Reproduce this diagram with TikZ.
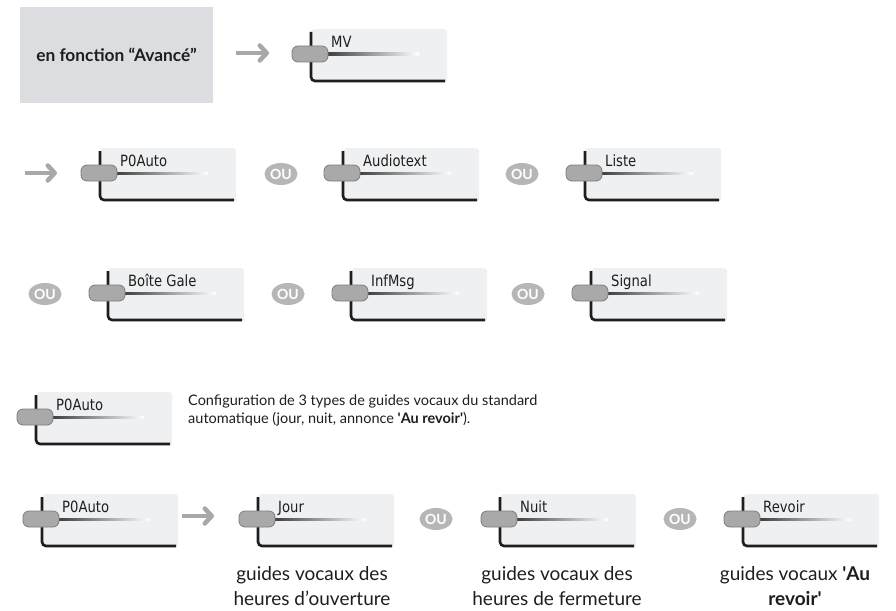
\documentclass[tikz,border=0pt]{standalone}
\usepackage{fontspec}
\setmainfont{Lato}
\newfontfamily\lcdfont[FakeStretch=0.85]{DejaVu Sans}
\usetikzlibrary{shapes.geometric,arrows.meta}
\definecolor{panelgrey}{HTML}{DCDDE0}
\definecolor{keyfill}{HTML}{EFF0F2}
\definecolor{pillfill}{HTML}{A9A9A9}
\definecolor{pilledge}{HTML}{7C7C7C}
\definecolor{ougrey}{HTML}{B6B6B6}
\definecolor{arrowgrey}{HTML}{A8A8A8}
\definecolor{inkblack}{HTML}{1E1E1E}
\tikzset{
  panel/.style={fill=panelgrey, minimum width=193pt, minimum height=96pt, inner sep=0pt,
    font=\bfseries\fontsize{17.3}{19}\selectfont, text=inkblack},
  keybg/.style={fill=keyfill, minimum width=136pt, minimum height=53pt, inner sep=0pt, rounded corners=3pt},
  keyedge/.style={draw=inkblack, line width=2.6pt, rounded corners=4pt},
  pill/.style={fill=pillfill, draw=pilledge, line width=0.8pt, rounded corners=6pt},
  keylabel/.style={anchor=base west, inner sep=0pt, text=inkblack, font=\lcdfont\fontsize{15.5}{16}\selectfont},
  ou/.style={ellipse, fill=ougrey, minimum width=33pt, minimum height=22pt, inner sep=0pt,
    text=white, font=\bfseries\fontsize{14}{14}\selectfont},
  arr/.style={draw=arrowgrey, line width=4.5pt, -{Straight Barb[length=7pt, width=15pt, round]}},
  bodytext/.style={inner sep=0pt, text=inkblack, font=\fontsize{14.5}{17.5}\selectfont, align=left},
  captext/.style={inner sep=0pt, text=inkblack, font=\fontsize{19}{25}\selectfont, align=center, anchor=north}
}
\newcommand\lcdkey[4]{%
  \begin{scope}[shift={(#2,#3)}]
    \node[keybg, anchor=north west] (#1) at (0,0) {};
    \draw[keyedge] (0,3) -- (0,52) -- (134,52);
    \shade[left color=black!75, right color=white] (17,24) rectangle (108,26.2);
    \draw[pill] (-19,17) rectangle (17,33);
    \node[keylabel] (#1-l) at (20,18.5) {#4};
  \end{scope}}
\begin{document}
\begin{tikzpicture}[x=1pt,y=-1pt]
\useasboundingbox (0,0) rectangle (896,610);
% row 1
\node[panel] (pan) at (116.5,55) {en fonction “Avancé”};
\coordinate (a1s) at (236,53); \coordinate (a1e) at (269,53);
\draw[arr] (a1s) -- (a1e);
\lcdkey{mv}{311}{29}{MV}
% row 2
\coordinate (a2s) at (25,173); \coordinate (a2e) at (57,173);
\draw[arr] (a2s) -- (a2e);
\lcdkey{poa}{100}{148}{P0Auto}
\node[ou] (ou1) at (281,174) {OU};
\lcdkey{aud}{343}{148}{Audiotext}
\node[ou] (ou2) at (522,174) {OU};
\lcdkey{lst}{585}{148}{Liste}
% row 3
\node[ou] (ou3) at (45,294) {OU};
\lcdkey{bgl}{108}{268}{Boîte Gale}
\node[ou] (ou4) at (288,294) {OU};
\lcdkey{inf}{351}{268}{InfMsg}
\node[ou] (ou5) at (528,294) {OU};
\lcdkey{sig}{591}{268}{Signal}
% row 4
\lcdkey{pob}{36}{392}{P0Auto}
\node[bodytext, anchor=north west] (cfg) at (188,395)
  {Configuration de 3 types de guides vocaux du standard\\automatique (jour, nuit, annonce \textbf{\textquotesingle Au revoir\textquotesingle}).};
% row 5
\lcdkey{poc}{42}{494}{P0Auto}
\coordinate (a3s) at (182,516); \coordinate (a3e) at (214,516);
\draw[arr] (a3s) -- (a3e);
\lcdkey{jour}{258}{494}{Jour}
\node[ou] (ou6) at (436,519) {OU};
\lcdkey{nuit}{500}{494}{Nuit}
\node[ou] (ou7) at (680,519) {OU};
\lcdkey{rev}{743}{494}{Revoir}
\node[captext] (c1) at (312,566) {guides vocaux des\\heures d’ouverture};
\node[captext] (c2) at (557,566) {guides vocaux des\\heures de fermeture};
\node[captext] (c3) at (795,566) {guides vocaux \textbf{\textquotesingle Au}\\\textbf{revoir\textquotesingle}};
\end{tikzpicture}
\end{document}
